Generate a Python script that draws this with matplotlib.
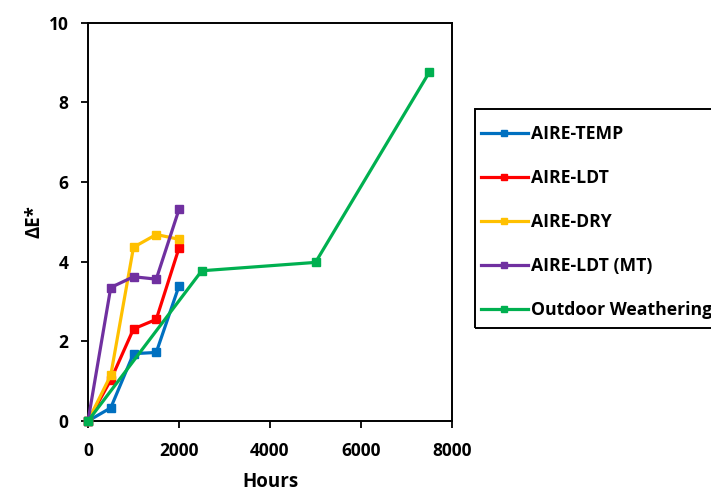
import matplotlib
matplotlib.use("Agg")
import matplotlib.pyplot as plt
from matplotlib.patches import Rectangle

plt.rcParams['font.family'] = ['Open Sans', 'DejaVu Sans']
plt.rcParams['font.weight'] = 'bold'

hours_aire = [0, 500, 1000, 1500, 2000]
aire_temp = [0.0, 0.33, 1.69, 1.72, 3.39]
aire_ldt = [0.0, 1.03, 2.31, 2.55, 4.34]
aire_dry = [0.0, 1.15, 4.36, 4.68, 4.56]
aire_ldt_mt = [0.0, 3.35, 3.62, 3.56, 5.31]
hours_outdoor = [0, 2500, 5000, 7500]
outdoor = [0.0, 3.77, 3.98, 8.75]

series = [
    ("AIRE-TEMP", hours_aire, aire_temp, "#0070C0"),
    ("AIRE-LDT", hours_aire, aire_ldt, "#FF0000"),
    ("AIRE-DRY", hours_aire, aire_dry, "#FFC000"),
    ("AIRE-LDT (MT)", hours_aire, aire_ldt_mt, "#7030A0"),
    ("Outdoor Weathering", hours_outdoor, outdoor, "#00B050"),
]

xticks = [0, 2000, 4000, 6000, 8000]
yticks = [0, 2, 4, 6, 8, 10]

W, H = 711, 492
fig = plt.figure(figsize=(W / 100, H / 100), dpi=100)
ax = fig.add_axes([88 / W, 1 - 421 / H, (452 - 88) / W, (421 - 22.5) / H])

handles = []
for name, x, y, c in series:
    h, = ax.plot(x, y, color=c, lw=2.3, marker='s', ms=6, label=name, clip_on=False, zorder=3)
    handles.append(h)

ax.set_xlim(0, 8000)
ax.set_ylim(0, 10)
ax.set_xticks(xticks)
ax.set_yticks(yticks)
ax.tick_params(direction='out', length=5, width=1.3, labelsize=12.5, colors='black')
ax.tick_params(axis='x', pad=10)
ax.tick_params(axis='y', pad=9)
for t in ax.get_xticklabels() + ax.get_yticklabels():
    t.set_fontweight('bold')
for s in ax.spines.values():
    s.set_linewidth(1.4)
    s.set_color('black')

ax.set_xlabel("Hours", fontsize=13.5, fontweight='bold', labelpad=9)
ax.set_ylabel("ΔE*", fontsize=13.5, fontweight='bold', labelpad=3)

# legend frame (extends past the right edge, as in the reference)
fig.patches.append(Rectangle((475 / W, 1 - 328 / H), 400 / W, (328 - 109) / H,
                             transform=fig.transFigure, fill=False, ec='black', lw=1.4))
leg = fig.legend(handles=handles, loc='upper left', bbox_to_anchor=(481 / W, 1 - 125 / H),
                 frameon=False, prop={'weight': 'bold', 'size': 12.7},
                 handlelength=2.66, handletextpad=0.17, labelspacing=1.47,
                 borderpad=0, borderaxespad=0, markerscale=0.7)

fig.savefig("out.png", dpi=100)
